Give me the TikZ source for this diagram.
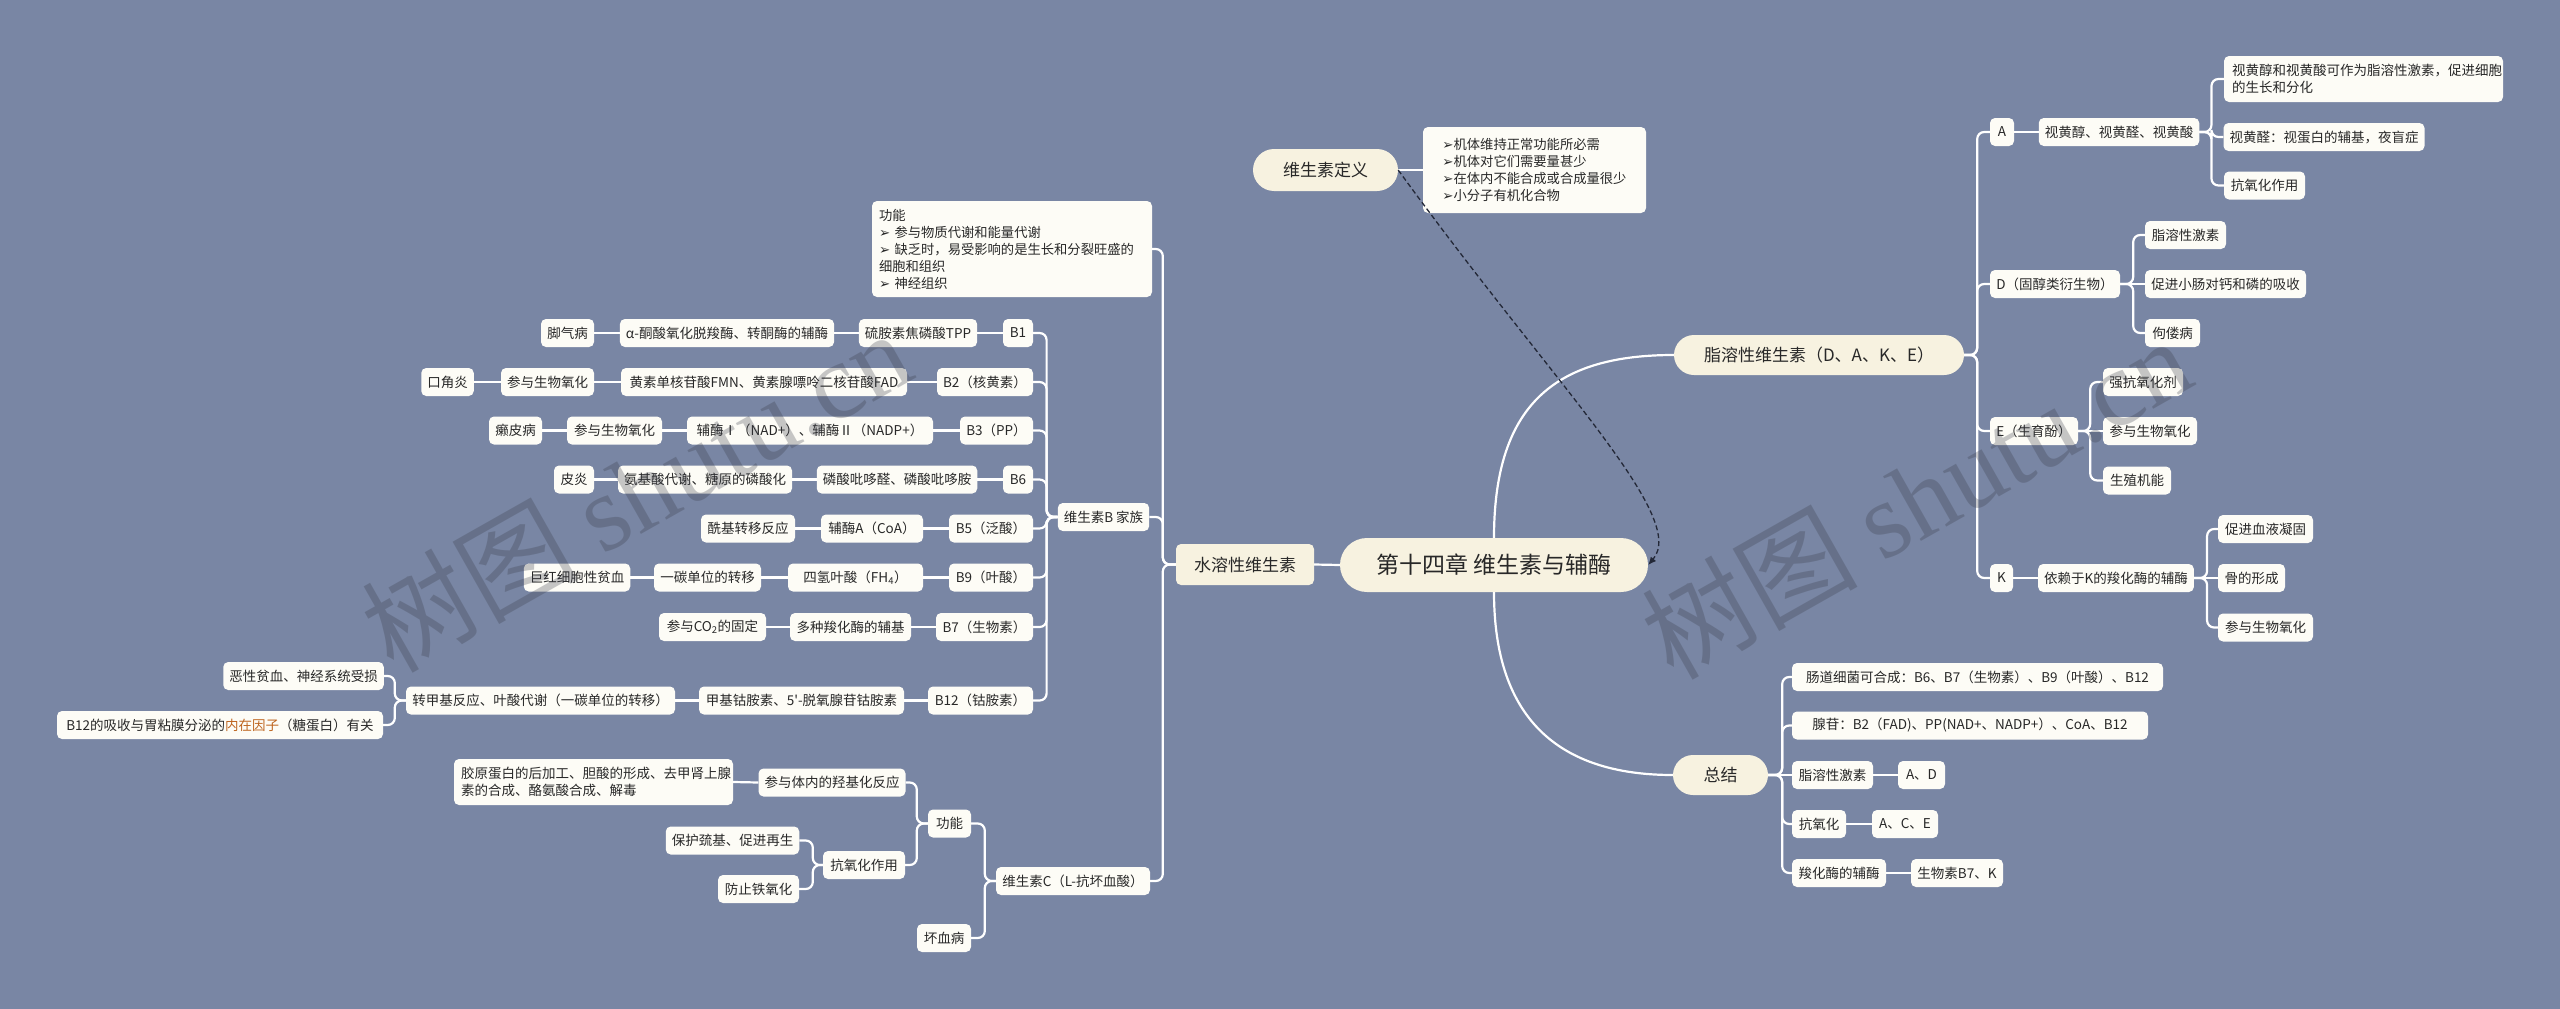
\documentclass[tikz,border=0pt]{standalone}
\usepackage{fontspec}
\setmainfont{Noto Sans CJK SC}
\newfontfamily\dvfont{DejaVu Sans}
\newfontfamily\cjkplain{Noto Sans CJK SC}
\newfontfamily\wmlatin{Liberation Serif}
\usetikzlibrary{arrows.meta}
\definecolor{bgc}{RGB}{121,134,164}
\definecolor{mainfill}{RGB}{247,242,224}
\definecolor{smallfill}{RGB}{253,252,246}
\definecolor{txt}{RGB}{40,40,40}
\definecolor{orangetxt}{RGB}{190,100,30}
\definecolor{dashc}{RGB}{35,40,55}
\definecolor{wmc}{RGB}{55,58,70}
\newcommand\arw{{\dvfont ➢}}
% node: [opts]{name}{x}{y}{width}{text}
\newcommand\nd[6][]{\node[sn,minimum width=#5pt,#1] (#2) at (#3,#4) {#6};}
% straight link
\newcommand\lk[2]{\draw[conn] (#1) -- (#2);}
% bracket to the right: parent, child, stub
\newcommand\brR[3]{\draw[brk] (#1.east) -- ++(#3,0) |- (#2.west);}
% bracket to the left: parent, child, stub
\newcommand\brL[3]{\draw[brk] (#1.west) -- ++(-#3,0) |- (#2.east);}
\begin{document}
\begin{tikzpicture}[x=1pt,y=-1pt,
  conn/.style={draw=white,line width=2.2pt},
  brk/.style={conn,rounded corners=7pt},
  sn/.style={rectangle,rounded corners=5pt,fill=smallfill,text=txt,minimum height=28pt,inner xsep=6pt,inner ysep=2pt,font=\fontsize{13.5}{17}\selectfont},
  pill/.style={rectangle,rounded corners=20pt,fill=mainfill,text=txt,minimum height=40pt,inner xsep=8pt,font=\fontsize{17}{20}\selectfont},
  txtbox/.style={rectangle,rounded corners=5pt,fill=smallfill,text=txt,align=left,font=\fontsize{13.3}{17}\selectfont},
  wm/.style={text=wmc,text opacity=0.28,font=\fontsize{108}{108}\selectfont,rotate=29.5}]
\useasboundingbox (0,0) rectangle (2560,1009);
\fill[bgc] (0,0) rectangle (2560,1009);

% ---------- main nodes ----------
\node[pill,rounded corners=27pt,minimum width=308pt,minimum height=54pt,font=\fontsize{23}{27}\selectfont] (center) at (1494,565) {第十四章 维生素与辅酶};
\node[pill,rounded corners=21pt,minimum width=145pt,minimum height=42pt] (def) at (1325.5,170) {维生素定义};
\node[txtbox,minimum width=223pt,minimum height=86pt] (defbox) at (1534.5,170) {\arw{}机体维持正常功能所必需\\\arw{}机体对它们需要量甚少\\\arw{}在体内不能合成或合成量很少\\\arw{}小分子有机化合物};
\node[pill,minimum width=290pt] (fat) at (1819,355) {脂溶性维生素（D、A、K、E）};
\node[pill,minimum width=95pt] (sum) at (1720.5,775) {总结};
\node[pill,rounded corners=5pt,minimum width=138pt,minimum height=41pt] (water) at (1245,564.5) {水溶性维生素};

\draw[conn] (center.north) .. controls (1494,400) and (1560,355) .. (fat.west);
\draw[conn] (center.south) .. controls (1494,720) and (1560,775) .. (sum.west);
\lk{center.west}{water.east}
\lk{def.east}{defbox.west}
\draw[dashc,line width=1.3pt,dash pattern=on 5pt off 3pt,-{Latex[length=8pt,width=7pt]}] (def.east) .. controls (1554,385) and (1689,517) .. (center.east);

% ---------- fat soluble ----------
\nd{nA}{2002}{132}{24}{A}
\nd{nAr}{2119}{132}{160}{视黄醇、视黄醛、视黄酸}
\node[txtbox,text width=263pt,inner xsep=8pt,minimum height=46pt,font=\fontsize{13.5}{17}\selectfont] (nA1) at (2363.5,79) {视黄醇和视黄酸可作为脂溶性激素，促进细胞\\的生长和分化};
\nd{nA2}{2324}{137}{200}{视黄醛：视蛋白的辅基，夜盲症}
\nd{nA3}{2264.5}{185.5}{81}{抗氧化作用}
\nd{nD}{2055}{284}{130}{D（固醇类衍生物）}
\nd{nD1}{2185.5}{235}{81}{脂溶性激素}
\nd{nD2}{2225.5}{284}{161}{促进小肠对钙和磷的吸收}
\nd{nD3}{2172.5}{333}{55}{佝偻病}
\nd{nE}{2034}{431}{88}{E（生育酚）}
\nd{nE1}{2143}{382}{80}{强抗氧化剂}
\nd{nE2}{2150}{431}{94}{参与生物氧化}
\nd{nE3}{2137}{480.5}{68}{生殖机能}
\nd{nK}{2001.5}{578}{23}{K}
\nd{nKr}{2116}{578}{154}{依赖于K的羧化酶的辅酶}
\nd{nK1}{2265.5}{529}{95}{促进血液凝固}
\nd{nK2}{2251.5}{578}{67}{骨的形成}
\nd{nK3}{2265.5}{627.5}{95}{参与生物氧化}

\brR{fat}{nA}{13}
\brR{fat}{nD}{13}
\brR{fat}{nE}{13}
\brR{fat}{nK}{13}
\lk{nA.east}{nAr.west}
\brR{nAr}{nA1}{12}
\brR{nAr}{nA2}{12}
\brR{nAr}{nA3}{12}
\brR{nD}{nD1}{13}
\lk{nD.east}{nD2.west}
\brR{nD}{nD3}{13}
\brR{nE}{nE1}{12}
\lk{nE.east}{nE2.west}
\brR{nE}{nE3}{12}
\lk{nK.east}{nKr.west}
\brR{nKr}{nK1}{13}
\lk{nKr.east}{nK2.west}
\brR{nKr}{nK3}{13}

% ---------- summary ----------
\nd{nS1}{1977.5}{677}{371}{肠道细菌可合成：B6、B7（生物素）、B9（叶酸）、B12}
\nd{nS2}{1970}{725.5}{356}{腺苷：B2（FAD)、PP(NAD+、NADP+）、CoA、B12}
\nd{nS3}{1832.5}{775}{81}{脂溶性激素}
\nd{nS3a}{1921.5}{775}{47}{A、D}
\nd{nS4}{1819}{824}{54}{抗氧化}
\nd{nS4a}{1905}{824}{66}{A、C、E}
\nd{nS5}{1839}{873}{94}{羧化酶的辅酶}
\nd{nS5a}{1957}{873}{92}{生物素B7、K}
\brR{sum}{nS1}{14}
\brR{sum}{nS2}{14}
\lk{sum.east}{nS3.west}
\brR{sum}{nS4}{14}
\brR{sum}{nS5}{14}
\lk{nS3.east}{nS3a.west}
\lk{nS4.east}{nS4a.west}
\lk{nS5.east}{nS5a.west}

% ---------- water soluble ----------
\node[txtbox,text width=266pt,inner xsep=7pt,minimum height=96pt] (func) at (1012,249) {功能\\\arw{} 参与物质代谢和能量代谢\\\arw{} 缺乏时，易受影响的是生长和分裂旺盛的\\细胞和组织\\\arw{} 神经组织};
\nd{nB}{1103.5}{517}{91}{维生素B 家族}
\nd{nC}{1073}{881}{154}{维生素C（L-抗坏血酸）}
\brL{water}{func}{13}
\brL{water}{nB}{13}
\brL{water}{nC}{13}

% B1
\nd{nB1}{1018}{333}{30}{B1}
\nd{nB1a}{918}{333}{118}{硫胺素焦磷酸TPP}
\nd{nB1b}{727}{333}{212}{α-酮酸氧化脱羧酶、转酮酶的辅酶}
\nd{nB1c}{567.5}{333}{53}{脚气病}
% B2
\nd{nB2}{985}{382}{96}{B2（核黄素）}
\nd{nB2a}{764}{382}{286}{黄素单核苷酸FMN、黄素腺嘌呤二核苷酸FAD}
\nd{nB2b}{547.5}{382}{93}{参与生物氧化}
\nd{nB2c}{447.5}{382}{51}{口角炎}
% B3
\nd{nB3}{996.5}{430.5}{73}{B3（PP）}
\nd{nB3a}{810}{430.5}{246}{辅酶Ⅰ（NAD+）、辅酶Ⅱ（NADP+）}
\nd{nB3b}{614.5}{430.5}{95}{参与生物氧化}
\nd{nB3c}{515.5}{430.5}{53}{癞皮病}
% B6
\nd{nB6}{1018}{479.5}{30}{B6}
\nd{nB6a}{897}{479.5}{160}{磷酸吡哆醛、磷酸吡哆胺}
\nd{nB6b}{705}{479.5}{174}{氨基酸代谢、糖原的磷酸化}
\nd{nB6c}{574}{479.5}{40}{皮炎}
% B5
\nd{nB5}{991}{528.5}{84}{B5（泛酸）}
\nd{nB5a}{872}{528.5}{102}{辅酶A（CoA）}
\nd{nB5b}{748}{528.5}{94}{酰基转移反应}
% B9
\nd{nB9}{991}{577.5}{84}{B9（叶酸）}
\nd{nB9a}{855.5}{577.5}{135}{四氢叶酸（FH\textsubscript{4}）}
\nd{nB9b}{707.5}{577.5}{107}{一碳单位的转移}
\nd{nB9c}{577}{577.5}{106}{巨红细胞性贫血}
% B7
\nd{nB7}{984.5}{627}{97}{B7（生物素）}
\nd{nB7a}{850.5}{627}{121}{多种羧化酶的辅基}
\nd{nB7b}{712.5}{627}{107}{参与CO\textsubscript{2}的固定}
% B12
\nd{nB12}{980.5}{700.5}{105}{B12（钴胺素）}
\nd{nB12a}{801.5}{700.5}{205}{甲基钴胺素、5{\cjkplain '}-脱氧腺苷钴胺素}
\nd{nB12b}{540.5}{700.5}{269}{转甲基反应、叶酸代谢（一碳单位的转移）}
\nd{nB12c}{303.5}{676}{159}{恶性贫血、神经系统受损}
\nd{nB12d}{220}{725}{326}{B12的吸收与胃粘膜分泌的\textcolor{orangetxt}{内在因子}（糖蛋白）有关}

\brL{nB}{nB1}{11}
\brL{nB}{nB2}{11}
\brL{nB}{nB3}{11}
\brL{nB}{nB6}{11}
\brL{nB}{nB5}{11}
\brL{nB}{nB9}{11}
\brL{nB}{nB7}{11}
\brL{nB}{nB12}{11}
\lk{nB1.west}{nB1a.east}\lk{nB1a.west}{nB1b.east}\lk{nB1b.west}{nB1c.east}
\lk{nB2.west}{nB2a.east}\lk{nB2a.west}{nB2b.east}\lk{nB2b.west}{nB2c.east}
\lk{nB3.west}{nB3a.east}\lk{nB3a.west}{nB3b.east}\lk{nB3b.west}{nB3c.east}
\lk{nB6.west}{nB6a.east}\lk{nB6a.west}{nB6b.east}\lk{nB6b.west}{nB6c.east}
\lk{nB5.west}{nB5a.east}\lk{nB5a.west}{nB5b.east}
\lk{nB9.west}{nB9a.east}\lk{nB9a.west}{nB9b.east}\lk{nB9b.west}{nB9c.east}
\lk{nB7.west}{nB7a.east}\lk{nB7a.west}{nB7b.east}
\lk{nB12.west}{nB12a.east}\lk{nB12a.west}{nB12b.east}
\brL{nB12b}{nB12c}{11}
\brL{nB12b}{nB12d}{11}

% C
\nd{nC1}{949.5}{823.5}{43}{功能}
\nd{nC2}{944}{938}{54}{坏血病}
\nd{nC1a}{832}{782.5}{146}{参与体内的羟基化反应}
\nd{nC1b}{864}{865}{82}{抗氧化作用}
\node[txtbox,text width=265pt,inner xsep=7pt,minimum height=46pt,font=\fontsize{13.5}{17}\selectfont] (nC1a1) at (593.5,782) {胶原蛋白的后加工、胆酸的形成、去甲肾上腺\\素的合成、酪氨酸合成、解毒};
\nd{nC1b1}{732.5}{840.5}{133}{保护巯基、促进再生}
\nd{nC1b2}{758.5}{889}{81}{防止铁氧化}
\brL{nC}{nC1}{11}
\brL{nC}{nC2}{11}
\brL{nC1}{nC1a}{11}
\brL{nC1}{nC1b}{11}
\lk{nC1a.west}{nC1a1.east}
\brL{nC1b}{nC1b1}{10}
\brL{nC1b}{nC1b2}{10}

% ---------- watermarks ----------
\node[wm] (wm1) at (636,490) {树图 {\wmlatin shutu.cn}};
\node[wm] (wm2) at (1916,497) {树图 {\wmlatin shutu.cn}};
\end{tikzpicture}
\end{document}
